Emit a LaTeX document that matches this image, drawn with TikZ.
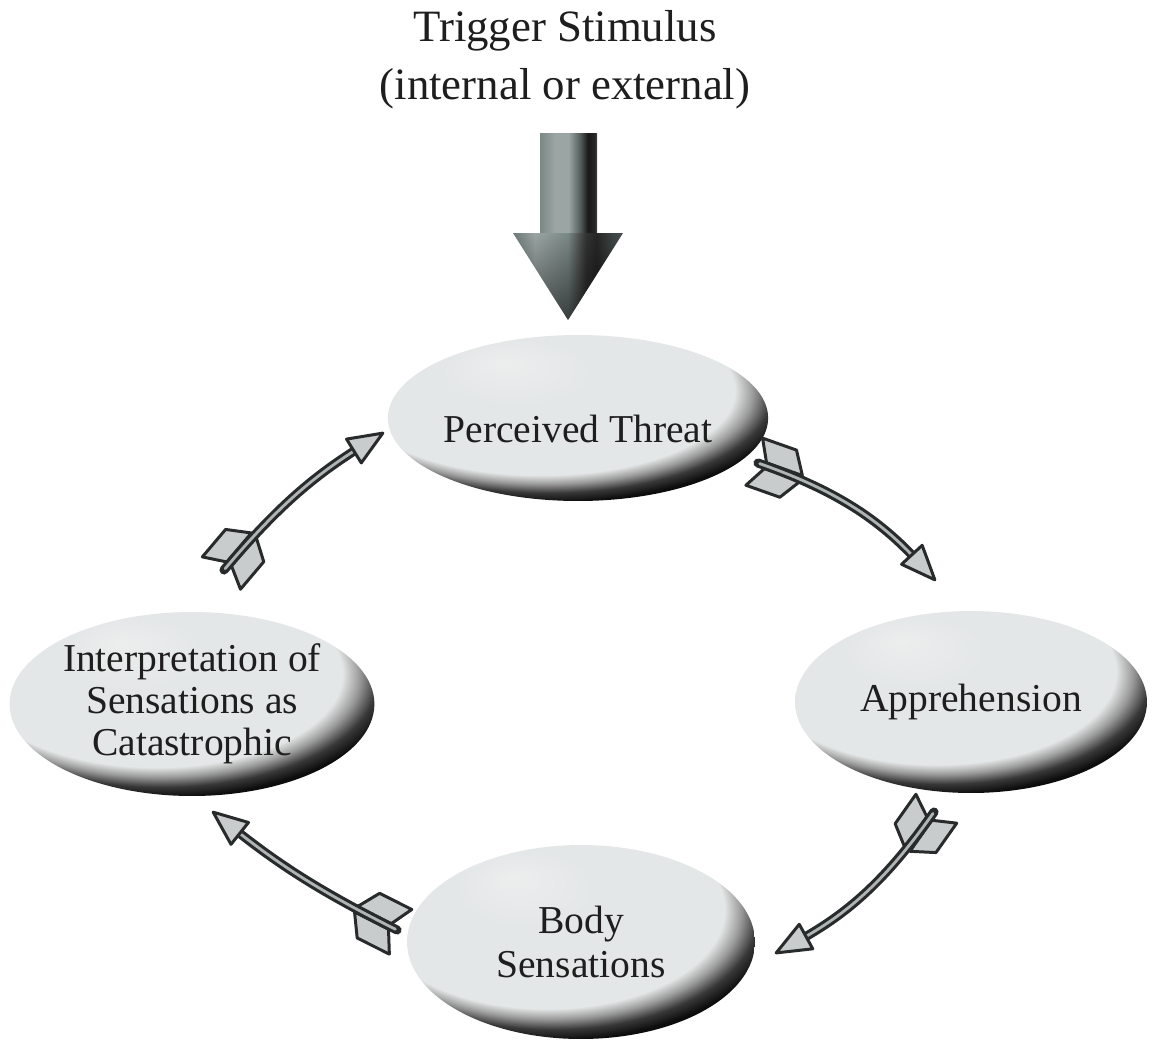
\documentclass[tikz,border=0pt]{standalone}
\usepackage{fontspec}
\setmainfont{Liberation Serif}
\usetikzlibrary{shapes.geometric,decorations.markings,fadings}
\definecolor{bubfill}{RGB}{228,231,231}
\definecolor{txtcol}{RGB}{30,30,30}
\definecolor{dartline}{RGB}{40,43,43}
\definecolor{dartfill}{RGB}{200,204,204}
\definecolor{dartcore}{RGB}{175,180,180}
\definecolor{bigA}{RGB}{122,136,134}
\definecolor{bigB}{RGB}{155,166,164}
\pgfdeclareradialshading{bubshade}{\pgfpoint{-10bp}{17bp}}{%
  color(0bp)=(bubfill!70!white); color(10bp)=(bubfill); color(25.5bp)=(bubfill);
  color(27.5bp)=(black!40); color(29.5bp)=(black!78); color(31.5bp)=(black!95);
  color(50bp)=(black)}
\pgfdeclarehorizontalshading{shaftshade}{100bp}{%
  color(0bp)=(bigA); color(25bp)=(bigA); color(38bp)=(bigB); color(50bp)=(bigB);
  color(60bp)=(bigA!70!black); color(67bp)=(black!90); color(73bp)=(black!85);
  color(75bp)=(black!70); color(100bp)=(black!70)}
\pgfdeclarehorizontalshading{headshade}{100bp}{%
  color(0bp)=(bigA!90!black); color(25bp)=(bigA!90!black); color(35bp)=(bigB);
  color(50bp)=(bigA); color(58bp)=(black!80); color(63bp)=(black!85);
  color(70bp)=(bigA!50!black); color(75bp)=(bigA!60!black); color(100bp)=(bigA!60!black)}
\tikzset{
  bubble/.style={ellipse, shading=bubshade, text=txtcol, align=center,
    inner sep=0pt, font=\fontsize{22.5}{24}\selectfont},
  titletext/.style={text=txtcol, align=center, inner sep=0pt,
    font=\fontsize{25.5}{33}\selectfont},
  vane/.style={draw=dartline, fill=dartfill, line width=1.7pt, line join=round},
  dartvanes/.style={decoration={markings, mark=at position 0 with {
      \draw[vane] (8,3) -- (46,3) -- (32,25) -- (-4,25) -- cycle;
      \draw[vane] (8,-3) -- (46,-3) -- (32,-25) -- (-4,-25) -- cycle;}}, decorate},
  darthead/.style={decoration={markings, mark=at position 0.999 with {
      \draw[vane] (0,0) -- (-34,14) -- (-34,-14) -- cycle;}}, decorate},
  dartshaft/.style={draw=dartline, line width=5.2pt, shorten >=14pt, line cap=round},
  dartinner/.style={draw=dartcore, line width=1.6pt, shorten >=14pt, shorten <=1pt, line cap=round}
}
\newcommand{\dartarrow}[3]{%
  \path[dartvanes] (#1) to[bend left=#3] (#2);
  \draw[dartshaft] (#1) to[bend left=#3] (#2);
  \draw[dartinner] (#1) to[bend left=#3] (#2);
  \path[darthead] (#1) to[bend left=#3] (#2);
}
\begin{document}
\begin{tikzpicture}[x=0.02cm, y=0.02cm]
\fill[white] (0,0) rectangle (1158,-1041);
\useasboundingbox (0,0) rectangle (1158,-1041);

% title
\node[titletext] (title) at (565,-60) {Trigger Stimulus\\(internal or external)};

% big arrow
\coordinate (bigtop) at (568,-133);
\coordinate (bigtip) at (568,-320);
\shade[shading=shaftshade] (540,-133) rectangle (597,-234);
\shade[shading=headshade] (513,-233) -- (623,-233) -- (bigtip) -- cycle;
\fill[black, path fading=north, fill opacity=0.55] (513,-233) -- (623,-233) -- (bigtip) -- cycle;

% ellipses
\node[bubble, minimum width=6.88cm, minimum height=3.32cm, text height=28pt, text depth=0pt]
  (pt) at (578,-418) {Perceived Threat};
\node[bubble, minimum width=7.04cm, minimum height=3.64cm]
  (ap) at (971,-702) {Apprehension};
\node[bubble, minimum width=7.04cm, minimum height=3.68cm]
  (in) at (192,-704) {Interpretation of\\Sensations as\\Catastrophic};
\node[bubble, minimum width=6.96cm, minimum height=3.88cm, font=\fontsize{22.5}{25.5}\selectfont]
  (bs) at (581,-942) {Body\\Sensations};

% dart arrows
\coordinate (a1s) at (758,-463);
\coordinate (a1e) at (935,-580);
\coordinate (a2s) at (934,-812);
\coordinate (a2e) at (776,-953);
\coordinate (a3s) at (397,-930);
\coordinate (a3e) at (213,-812);
\coordinate (a4s) at (224,-570);
\coordinate (a4e) at (383,-433);
\dartarrow{a1s}{a1e}{14}
\dartarrow{a2s}{a2e}{13}
\dartarrow{a3s}{a3e}{6}
\dartarrow{a4s}{a4e}{9}
\end{tikzpicture}
\end{document}
